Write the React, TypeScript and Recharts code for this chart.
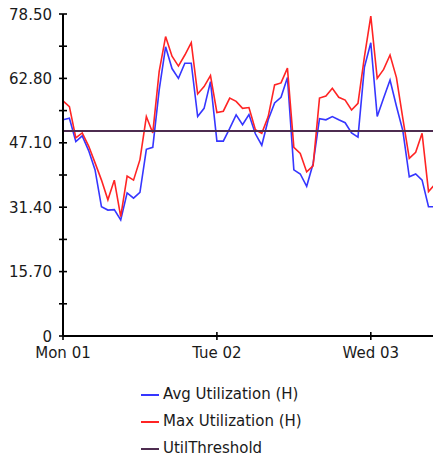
import React from 'react';
import { LineChart, Line, XAxis, YAxis, Legend } from 'recharts';

const HOURS = [0,1,2,3,4,5,6,7,8,9,10,11,12,13,14,15,16,17,18,19,20,21,22,23,24,25,26,27,28,29,30,31,32,33,34,35,36,37,38,39,40,41,42,43,44,45,46,47,48,49,50,51,52,53,54,55,56,57,58];

const AVG_UTIL = [52.7,53.1,47.4,48.8,45.2,40.5,31.5,30.7,30.8,28.3,34.9,33.6,35,45.5,46,60,70.5,65.2,62.8,66.5,66.5,53.5,55.5,62,47.5,47.5,50.6,53.9,51.5,54,49.3,46.5,52.7,56.8,58.2,63,40.5,39.5,36.5,42,53,52.7,53.5,52.7,52,49.5,48.5,65.5,71.5,53.5,58,62.4,56,50,38.8,39.5,38,31.5,31.5];

const MAX_UTIL = [57.3,55.9,48.3,49.5,46.3,42.2,38,33.2,38,29.1,39,38,43,53.5,49.5,64.5,73,68.2,65.8,68.5,71.5,59,60.8,63.5,54.5,54.8,58,57.2,55.5,55.7,50.3,49.4,53.5,61.2,61.7,65.3,46,44.5,40,41.5,58,58.5,60.4,58.2,57.5,55.1,56.7,68,78,62.8,65,68.5,63,53,43.3,44.8,49.4,35.2,37];

const UTIL_THRESHOLD = 50;

const X_TICKS = [0, 24, 48];
const X_TICK_LABELS = ['Mon 01', 'Tue 02', 'Wed 03'];
const Y_MAJOR_TICKS = [0, 15.7, 31.4, 47.1, 62.8, 78.5];
const Y_MINOR_TICKS = [7.85, 23.55, 39.25, 54.95, 70.65];
const Y_TICK_LABELS = ['0', '15.70', '31.40', '47.10', '62.80', '78.50'];

const SERIES_NAMES = ['Avg Utilization (H)', 'Max Utilization (H)', 'UtilThreshold'];

const data = HOURS.map((h, i) => ({
  hour: h,
  avg: AVG_UTIL[i],
  max: MAX_UTIL[i],
  thr: UTIL_THRESHOLD,
}));

const FONT = '"DejaVu Sans", Verdana, sans-serif';
const TEXT_COLOR = '#1a1a1a';
const BLUE = '#3636ff';
const RED = '#ff2424';
const PURPLE = '#4e2c50';

const YTick = (props: any) => {
  const { x, y, payload } = props;
  const v = payload.value;
  const idx = Y_MAJOR_TICKS.findIndex((t) => Math.abs(t - v) < 1e-6);
  return (
    <g>
      <line x1={x - 4} x2={x + 4} y1={y} y2={y} stroke="#000" strokeWidth={1.6} />
      {idx >= 0 && (
        <text x={x - 11} y={y + 5.5} textAnchor="end" fontFamily={FONT} fontSize={15} fill={TEXT_COLOR}>
          {Y_TICK_LABELS[idx]}
        </text>
      )}
    </g>
  );
};

const XTick = (props: any) => {
  const { x, y, payload } = props;
  const idx = X_TICKS.indexOf(payload.value);
  return (
    <g>
      <line x1={x} x2={x} y1={y - 4} y2={y + 4} stroke="#000" strokeWidth={1.6} />
      <text x={x} y={y + 22} textAnchor="middle" fontFamily={FONT} fontSize={15} fill={TEXT_COLOR}>
        {idx >= 0 ? X_TICK_LABELS[idx] : ''}
      </text>
    </g>
  );
};

const LegendContent = () => {
  const colors = [BLUE, RED, PURPLE];
  return (
    <div style={{ height: 80, width: 180 }}>
      {SERIES_NAMES.map((name, i) => (
        <div key={name} style={{ height: 27, display: 'flex', alignItems: 'center' }}>
          <div style={{ width: 18, height: 2, background: colors[i], marginRight: 4 }} />
          <span style={{ fontFamily: FONT, fontSize: 15, color: TEXT_COLOR, lineHeight: '27px' }}>{name}</span>
        </div>
      ))}
    </div>
  );
};

export default function App() {
  return (
    <div style={{ width: 433, height: 461, background: '#fff', boxSizing: 'border-box', paddingLeft: 8 }}>
      <style>{'html,body{margin:0;padding:0;overflow:hidden;}'}</style>
      <LineChart width={425} height={461} data={data} margin={{ top: 14, right: 0, bottom: 15, left: 0 }}>
        <XAxis
          dataKey="hour"
          type="number"
          domain={[0, 57.7]}
          ticks={X_TICKS}
          allowDataOverflow
          axisLine={{ stroke: '#000', strokeWidth: 2 }}
          tickLine={false}
          tickSize={0}
          tickMargin={0}
          height={30}
          tick={<XTick />}
          interval={0}
        />
        <YAxis
          type="number"
          domain={[0, 78.5]}
          ticks={[...Y_MAJOR_TICKS, ...Y_MINOR_TICKS].sort((a, b) => a - b)}
          allowDataOverflow
          axisLine={{ stroke: '#000', strokeWidth: 2 }}
          tickLine={false}
          tickSize={0}
          tickMargin={0}
          width={55}
          tick={<YTick />}
          interval={0}
        />
        <Legend
          layout="vertical"
          verticalAlign="bottom"
          align="center"
          content={<LegendContent />}
          wrapperStyle={{ top: 381, left: 133, bottom: 'auto', width: 180 }}
        />
        <Line type="linear" dataKey="avg" name={SERIES_NAMES[0]} stroke={BLUE} strokeWidth={1.6} dot={false} isAnimationActive={false} />
        <Line type="linear" dataKey="max" name={SERIES_NAMES[1]} stroke={RED} strokeWidth={1.6} dot={false} isAnimationActive={false} />
        <Line type="linear" dataKey="thr" name={SERIES_NAMES[2]} stroke={PURPLE} strokeWidth={2} dot={false} isAnimationActive={false} />
      </LineChart>
    </div>
  );
}
